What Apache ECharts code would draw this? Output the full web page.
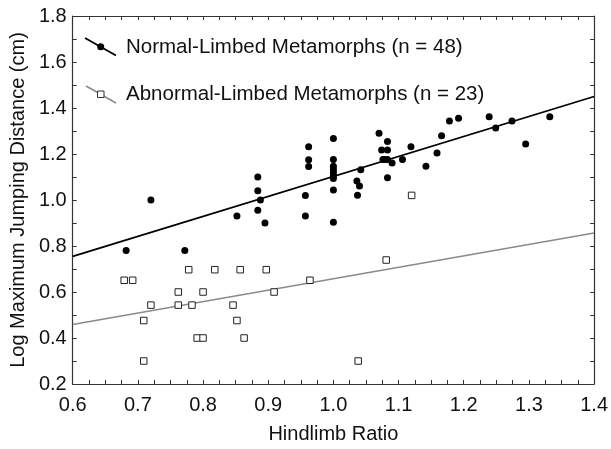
<!DOCTYPE html>
<html><head><meta charset="utf-8">
<script src="https://cdn.jsdelivr.net/npm/echarts@6/dist/echarts.min.js"></script>
<style>html,body{margin:0;padding:0;background:#fff}#c{width:611px;height:449px}</style>
</head><body><div id="c"></div>
<script>
// Normal-limbed metamorphs (n = 48): [hindlimb ratio, log max jumping distance]
const normalPoints = [
  [0.682,0.78],[0.72,1.0],[0.772,0.78],[0.852,0.93],[0.884,1.10],[0.884,1.04],[0.888,1.0],[0.884,0.955],
  [0.895,0.90],[0.957,0.93],[0.957,1.02],[0.962,1.146],[0.962,1.175],[0.962,1.232],
  [1.0,1.267],[1.0,1.176],[1.0,1.147],[1.0,1.133],[1.0,1.118],[1.0,1.104],[1.0,1.094],[1.0,1.043],[1.0,0.903],
  [1.042,1.131],[1.036,1.083],[1.040,1.061],[1.037,1.021],
  [1.070,1.29],[1.083,1.254],[1.074,1.217],[1.083,1.217],[1.076,1.176],[1.083,1.176],[1.079,1.176],[1.090,1.161],[1.083,1.097],
  [1.106,1.176],[1.119,1.232],[1.142,1.147],[1.159,1.204],[1.166,1.279],[1.178,1.343],[1.192,1.355],
  [1.239,1.362],[1.249,1.313],[1.274,1.343],[1.295,1.243],[1.332,1.362]
];
// Abnormal-limbed metamorphs (n = 23)
const abnormalPoints = [
  [0.679,0.651],[0.692,0.651],[0.709,0.30],[0.709,0.476],[0.72,0.543],[0.762,0.60],[0.762,0.543],
  [0.778,0.697],[0.783,0.543],[0.791,0.40],[0.80,0.40],[0.80,0.60],[0.818,0.697],[0.846,0.543],
  [0.852,0.476],[0.857,0.697],[0.863,0.40],[0.897,0.697],[0.909,0.60],[0.964,0.651],
  [1.038,0.30],[1.081,0.739],[1.12,1.02]
];
// Fitted regression lines (endpoints at axis range)
const normalFit = [[0.6,0.755],[1.4,1.45]];
const abnormalFit = [[0.6,0.459],[1.4,0.857]];
const normalLabel = 'Normal-Limbed Metamorphs (n = 48)';
const abnormalLabel = 'Abnormal-Limbed Metamorphs (n = 23)';
const xTitle = 'Hindlimb Ratio';
const yTitle = 'Log Maximum Jumping Distance (cm)';

const FONT = 'Liberation Sans, Arial, sans-serif';
const axisColor = '#333';
const tickStyle = {show:true, inside:true, length:4, lineStyle:{color:axisColor, width:1}};
const chart = echarts.init(document.getElementById('c'));
chart.setOption({
  animation:false,
  backgroundColor:'#fff',
  grid:{left:72, right:15, top:16, bottom:59.5},
  xAxis:[
    {type:'value', min:0.6, max:1.4, interval:0.1, position:'bottom',
     name:xTitle, nameLocation:'middle', nameGap:40,
     nameTextStyle:{fontFamily:FONT, fontSize:20, color:'#111'},
     axisLine:{show:true, onZero:false, lineStyle:{color:axisColor, width:1.2}},
     axisTick:tickStyle, minorTick:{show:true, splitNumber:4, length:4, lineStyle:{color:axisColor}},
     splitLine:{show:false},
     axisLabel:{fontFamily:FONT, fontSize:20, color:'#111', margin:11, formatter:v=>v.toFixed(1)}},
    {type:'value', min:0.6, max:1.4, interval:0.1, position:'top',
     axisLine:{show:true, onZero:false, lineStyle:{color:axisColor, width:1.2}},
     axisTick:tickStyle, minorTick:{show:true, splitNumber:4, length:4, lineStyle:{color:axisColor}},
     splitLine:{show:false}, axisLabel:{show:false}}
  ],
  yAxis:[
    {type:'value', min:0.2, max:1.8, interval:0.2, position:'left',
     name:yTitle, nameLocation:'middle', nameGap:42, nameRotate:90,
     nameTextStyle:{fontFamily:FONT, fontSize:20, color:'#111'},
     axisLine:{show:true, onZero:false, lineStyle:{color:axisColor, width:1.2}},
     axisTick:tickStyle, minorTick:{show:true, splitNumber:2, length:4, lineStyle:{color:axisColor}},
     splitLine:{show:false},
     axisLabel:{fontFamily:FONT, fontSize:20, color:'#111', margin:6, formatter:v=>v.toFixed(1)}},
    {type:'value', min:0.2, max:1.8, interval:0.2, position:'right',
     axisLine:{show:true, onZero:false, lineStyle:{color:axisColor, width:1.2}},
     axisTick:tickStyle, minorTick:{show:true, splitNumber:2, length:4, lineStyle:{color:axisColor}},
     splitLine:{show:false}, axisLabel:{show:false}}
  ],
  series:[
    {type:'line', data:abnormalFit, symbol:'none', lineStyle:{color:'#8a8a8a', width:1.5}, z:2},
    {type:'line', data:normalFit, symbol:'none', lineStyle:{color:'#000', width:1.8}, z:2},
    {type:'scatter', data:abnormalPoints, symbol:'rect', symbolSize:6.5,
     itemStyle:{color:'#fff', borderColor:'#222', borderWidth:1, opacity:1}, z:3},
    {type:'scatter', data:normalPoints, symbol:'circle', symbolSize:7,
     itemStyle:{color:'#000', opacity:1}, z:4}
  ],
  graphic:[
    {type:'line', shape:{x1:85,y1:38,x2:116,y2:55.5}, style:{stroke:'#000', lineWidth:1.8}, z:10},
    {type:'circle', shape:{cx:100.7, cy:46.7, r:3.5}, style:{fill:'#000'}, z:11},
    {type:'text', x:126, y:47, style:{text:normalLabel, font:'20.5px '+FONT, fill:'#111', verticalAlign:'middle'}, z:10},
    {type:'line', shape:{x1:86,y1:86,x2:116,y2:103}, style:{stroke:'#8a8a8a', lineWidth:1.5}, z:10},
    {type:'rect', shape:{x:97.5, y:91, width:6.5, height:6.5}, style:{fill:'#fff', stroke:'#333', lineWidth:1}, z:11},
    {type:'text', x:126, y:94.5, style:{text:abnormalLabel, font:'20.5px '+FONT, fill:'#111', verticalAlign:'middle'}, z:10}
  ]
});
</script></body></html>
